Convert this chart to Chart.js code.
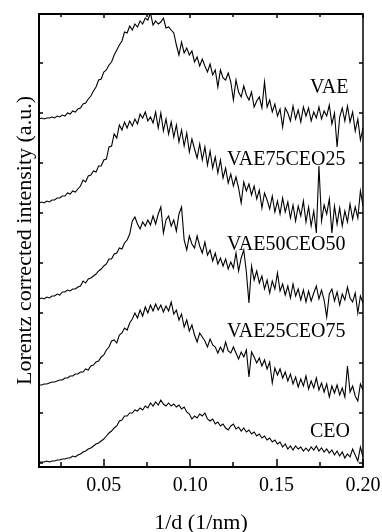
<!DOCTYPE html>
<html>
<head>
<meta charset="utf-8">
<script src="https://cdn.jsdelivr.net/npm/chart.js@4/dist/chart.umd.min.js"></script>
<style>
  html, body { margin: 0; padding: 0; background: #fff; }
  canvas { display: block; }
</style>
</head>
<body>
<canvas id="chart" width="382" height="532"></canvas>
<script>
// Scattering vector grid, 1/d in 1/nm
const Q_START = 0.0125;
const Q_STEP = 0.0015;
const Q_COUNT = 126;
const q = Array.from({ length: Q_COUNT }, (_, i) => +(Q_START + i * Q_STEP).toFixed(4));

// Lorentz corrected intensity (a.u.), each curve already shifted by its stacking offset
const vae = [
  344,345,344,345,345,346,345,347,346,348,
  347,350,349,352,351,354,355,359,360,364,
  367,372,376,383,384,391,393,398,401,408,
  413,418,422,431,430,437,433,439,436,442,
  439,445,443,450,438,442,439,441,445,435,
  436,433,430,418,408,421,410,415,408,412,
  401,406,397,404,397,391,399,388,393,376,
  393,385,383,390,381,363,383,371,366,377,
  368,363,371,356,362,366,355,381,356,363,
  351,359,347,354,336,355,350,342,357,344,
  353,341,356,347,355,342,351,345,356,344,
  352,347,358,339,350,316,346,355,342,357,
  341,351,332,344,323,335
];
const vae75ceo25 = [
  260,261,260,262,261,263,263,265,265,267,
  267,270,269,272,271,274,277,283,281,287,
  288,292,291,297,297,303,304,316,317,329,
  325,338,333,341,335,342,337,344,339,349,
  345,351,342,346,340,351,335,350,332,344,
  329,341,326,338,321,333,317,330,311,324,
  314,305,319,303,316,298,312,295,306,290,
  303,285,295,280,289,277,286,275,260,281,
  272,279,268,277,264,273,255,270,263,254,
  267,251,262,249,265,251,261,245,258,242,
  257,247,262,241,256,237,252,230,297,242,
  258,249,264,230,257,239,255,237,252,241,
  259,244,256,245,272,257
];
const vae50ceo50 = [
  164,165,164,166,165,167,167,169,168,171,
  171,173,172,174,174,176,177,182,180,184,
  185,187,189,192,194,197,199,204,204,209,
  210,215,214,220,223,229,242,246,239,234,
  241,237,243,238,247,239,249,256,230,243,
  247,237,243,232,249,256,223,213,227,219,
  215,227,217,210,221,208,213,202,210,199,
  205,197,204,194,201,195,210,192,205,213,
  191,160,197,183,192,180,187,174,183,170,
  182,174,190,172,179,168,177,165,179,167,
  174,163,173,161,172,162,170,177,164,173,
  163,146,169,174,162,171,158,169,163,176,
  165,161,170,150,167,160
];
const vae25ceo75 = [
  78,78,79,79,80,81,81,82,83,83,
  85,85,87,87,89,89,91,91,94,93,
  97,98,101,102,106,108,113,116,122,123,
  120,128,130,135,133,140,144,150,145,153,
  147,156,150,158,152,159,153,158,151,157,
  152,161,149,153,143,149,136,143,132,138,
  128,121,130,126,122,116,124,118,116,110,
  116,111,121,112,110,116,110,104,111,106,
  113,86,111,106,100,105,97,103,94,101,
  80,95,88,94,85,91,82,89,79,86,
  76,84,77,87,74,82,75,85,73,80,
  71,79,66,77,70,78,68,75,66,97,
  71,77,67,62,79,73
];
const ceo = [
  1,1,1,2,1,2,2,3,3,4,
  4,5,5,7,6,8,9,11,12,14,
  15,17,19,20,22,24,27,30,32,35,
  37,42,43,47,47,50,50,53,52,55,
  53,57,55,60,57,61,58,63,59,57,
  60,57,59,56,58,54,56,51,49,44,
  47,45,49,47,50,44,42,44,39,41,
  37,39,35,33,37,39,34,36,32,35,
  31,33,29,31,27,29,25,27,23,25,
  21,23,19,21,16,19,14,17,13,17,
  14,16,12,15,12,16,13,17,12,15,
  11,14,10,13,8,12,7,11,5,9,
  6,14,8,2,16,6
];

const seriesNames = ['VAE', 'VAE75CEO25', 'VAE50CEO50', 'VAE25CEO75', 'CEO'];
const seriesValues = [vae, vae75ceo25, vae50ceo50, vae25ceo75, ceo];
// where each curve's name sits, in data units (q, intensity)
const nameQ = [0.1693, 0.1213, 0.1213, 0.1213, 0.1693];
const nameI = [370, 298, 213, 126, 26];

const xTickValues = [0.05, 0.10, 0.15, 0.20];
const xTickLabels = ['0.05', '0.10', '0.15', '0.20'];
const xMinorValues = [0.025, 0.075, 0.125, 0.175];
const yTickValues = [0, 50, 100, 150, 200, 250, 300, 350, 400];

const xTitle = '1/d (1/nm)';
const yTitle = 'Lorentz corrected intensity (a.u.)';

const SERIF = '"Liberation Serif", "Times New Roman", serif';

// frame, inward ticks and all text
const framePlugin = {
  id: 'frame',
  beforeDraw(chart) {
    const { ctx, width, height } = chart;
    ctx.save();
    ctx.fillStyle = '#fff';
    ctx.fillRect(0, 0, width, height);
    ctx.restore();
  },
  afterDraw(chart) {
    const { ctx, chartArea: a, scales: { x, y } } = chart;
    ctx.save();
    ctx.strokeStyle = '#000';
    ctx.lineWidth = 2;
    ctx.beginPath();
    ctx.moveTo(a.left, a.top); ctx.lineTo(a.right, a.top);
    ctx.moveTo(a.left, a.bottom); ctx.lineTo(a.right, a.bottom);
    ctx.moveTo(a.left, a.top - 1); ctx.lineTo(a.left, a.bottom + 1);
    ctx.stroke();
    ctx.lineWidth = 1.5;
    ctx.beginPath();
    ctx.moveTo(a.right, a.top - 1); ctx.lineTo(a.right, a.bottom + 1);
    ctx.stroke();

    ctx.lineWidth = 1.5;
    ctx.beginPath();
    xTickValues.forEach(v => {
      const px = Math.round(x.getPixelForValue(v));
      ctx.moveTo(px, a.bottom); ctx.lineTo(px, a.bottom - 8);
      ctx.moveTo(px, a.top); ctx.lineTo(px, a.top + 4);
    });
    xMinorValues.forEach(v => {
      const px = Math.round(x.getPixelForValue(v));
      ctx.moveTo(px, a.bottom); ctx.lineTo(px, a.bottom - 5);
      ctx.moveTo(px, a.top); ctx.lineTo(px, a.top + 3);
    });
    yTickValues.forEach(v => {
      const py = Math.round(y.getPixelForValue(v));
      ctx.moveTo(a.left, py); ctx.lineTo(a.left + 4, py);
      ctx.moveTo(a.right, py); ctx.lineTo(a.right - 4, py);
    });
    ctx.stroke();

    ctx.fillStyle = '#000';
    ctx.textBaseline = 'alphabetic';
    ctx.textAlign = 'center';
    ctx.font = '20px ' + SERIF;
    xTickValues.forEach((v, i) => {
      ctx.fillText(xTickLabels[i], x.getPixelForValue(v), a.bottom + 24);
    });

    ctx.font = '22px ' + SERIF;
    ctx.fillText(xTitle, (a.left + a.right) / 2, a.bottom + 62);

    ctx.save();
    ctx.translate(31, (a.top + a.bottom) / 2);
    ctx.rotate(-Math.PI / 2);
    ctx.fillText(yTitle, 0, 0);
    ctx.restore();

    ctx.font = '20px ' + SERIF;
    ctx.textAlign = 'left';
    seriesNames.forEach((name, i) => {
      ctx.fillText(name, x.getPixelForValue(nameQ[i]), y.getPixelForValue(nameI[i]));
    });
    ctx.restore();
  }
};

new Chart(document.getElementById('chart'), {
  type: 'line',
  data: {
    datasets: seriesValues.map((vals, k) => ({
      label: seriesNames[k],
      data: vals.map((v, i) => ({ x: q[i], y: v })),
      borderColor: '#000',
      borderWidth: 1.1,
      pointRadius: 0,
      tension: 0,
      fill: false
    }))
  },
  options: {
    responsive: false,
    animation: false,
    devicePixelRatio: 1,
    layout: { padding: { left: 39, right: 19, top: 14, bottom: 65 } },
    plugins: { legend: { display: false }, tooltip: { enabled: false } },
    scales: {
      x: { type: 'linear', min: 0.0125, max: 0.20, display: false },
      y: { type: 'linear', min: -4, max: 449, display: false }
    }
  },
  plugins: [framePlugin]
});
</script>
</body>
</html>
